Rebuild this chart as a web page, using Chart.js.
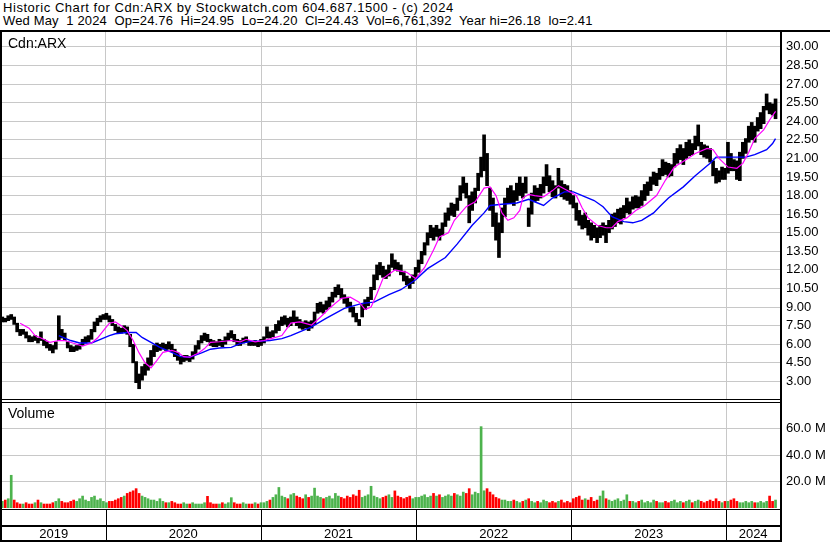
<!DOCTYPE html>
<html>
<head>
<meta charset="utf-8">
<script src="https://cdn.jsdelivr.net/npm/chart.js@4.4.1/dist/chart.umd.min.js"></script>
<style>
body { margin: 0; background: #fff; width: 830px; height: 543px; overflow: hidden; position: relative;
       font-family: Arial, "Liberation Sans", sans-serif; color: #000; }
.hdr { position: absolute; left: 3px; font-size: 13px; line-height: 13px; white-space: pre; }
.lbl { position: absolute; left: 8px; font-size: 14px; line-height: 16px; }
.ln { position: absolute; background: #000; }
canvas { position: absolute; left: 0; }
</style>
</head>
<body>
<div class="hdr" style="top:1px;letter-spacing:0.55px">Historic Chart for Cdn:ARX by Stockwatch.com 604.687.1500 - (c) 2024</div>
<div class="hdr" style="top:14px;letter-spacing:0.15px">Wed May  1 2024  Op=24.76  Hi=24.95  Lo=24.20  Cl=24.43  Vol=6,761,392  Year hi=26.18  lo=2.41</div>

<canvas id="price" width="830" height="368" style="top:32px"></canvas>
<canvas id="vol" width="830" height="140" style="top:402px"></canvas>

<div class="lbl" style="top:35px">Cdn:ARX</div>
<div class="lbl" style="top:405px">Volume</div>

<div class="ln" style="left:0;top:30px;width:830px;height:2px"></div>
<div class="ln" style="left:0;top:30px;width:2px;height:512px"></div>
<div class="ln" style="left:780px;top:30px;width:2px;height:512px"></div>
<div class="ln" style="left:0;top:399px;width:782px;height:1px"></div>
<div class="ln" style="left:0;top:402px;width:782px;height:1px"></div>
<div class="ln" style="left:0;top:509px;width:782px;height:1px"></div>
<div class="ln" style="left:0;top:525px;width:782px;height:2px"></div>
<div class="ln" style="left:0;top:540px;width:782px;height:2px"></div>

<script>
// weekly bars, first week ending 2019-05-03
const highs = [
  8.2, 8.1, 8.3, 8.4, 8.2, 7.7, 7.2, 7.2, 7.0, 6.7,
  6.6, 6.7, 6.5, 7.0, 6.4, 6.2, 6.0, 5.9, 6.2, 8.3,
  7.2, 6.9, 6.2, 5.9, 5.8, 5.9, 6.0, 6.4, 6.6, 6.7,
  7.2, 7.8, 8.1, 8.3, 8.4, 8.5, 8.3, 8.0, 7.6, 7.4,
  7.3, 7.5, 7.4, 6.8, 6.0, 4.6, 3.6, 4.2, 4.4, 4.9,
  5.5, 5.9, 6.1, 6.0, 6.1, 6.0, 6.2, 6.0, 5.6, 5.3,
  5.0, 5.1, 5.1, 5.0, 5.4, 5.9, 6.3, 6.7, 6.9, 6.8,
  6.4, 6.3, 6.2, 6.4, 6.3, 6.6, 6.9, 7.1, 6.8, 6.4,
  6.3, 6.5, 6.6, 6.3, 6.2, 6.3, 6.2, 6.4, 6.6, 7.4,
  7.0, 7.1, 7.6, 7.9, 8.2, 8.3, 8.1, 8.2, 8.7, 8.2,
  8.0, 7.8, 7.9, 7.8, 7.9, 8.6, 9.3, 9.4, 9.2, 9.5,
  9.8, 10.2, 10.6, 10.8, 10.5, 10.0, 9.8, 9.4, 9.0, 8.5,
  8.0, 9.2, 9.6, 9.8, 10.6, 11.6, 12.4, 12.6, 12.3, 12.0,
  12.4, 13.3, 12.8, 12.6, 12.4, 11.9, 11.5, 11.3, 11.6, 12.2,
  12.8, 13.5, 14.2, 15.0, 15.6, 15.4, 15.6, 15.3, 15.8, 16.6,
  17.0, 17.4, 17.3, 17.8, 18.8, 19.5, 19.0, 18.0, 18.3, 18.6,
  19.8, 21.1, 22.9, 21.4, 18.6, 17.8, 16.6, 15.8, 17.0, 17.8,
  18.6, 18.8, 18.4, 19.0, 19.5, 19.0, 19.5, 17.0, 18.2, 18.8,
  18.6, 18.9, 19.5, 20.5, 19.6, 19.2, 18.8, 20.2, 19.2, 18.9,
  18.8, 18.4, 18.0, 17.4, 16.8, 16.4, 16.6, 16.0, 15.8, 15.6,
  15.4, 15.6, 15.8, 15.6, 16.0, 16.5, 16.6, 16.9, 17.0, 17.2,
  17.8, 17.5, 17.9, 18.0, 17.9, 18.4, 18.9, 19.1, 19.5, 19.9,
  19.8, 20.2, 20.9, 20.7, 20.6, 20.5, 21.4, 21.8, 22.1, 21.8,
  22.3, 22.5, 22.2, 22.8, 23.7, 22.3, 22.1, 22.0, 21.8, 20.8,
  20.2, 20.0, 20.3, 20.2, 22.3, 21.4, 20.9, 20.8, 21.5, 22.3,
  22.6, 23.6, 23.9, 23.6, 24.3, 24.7, 25.2, 26.2, 25.5, 25.4, 25.8
];
const lows = [
  7.8, 7.8, 7.9, 8.0, 7.6, 7.0, 6.7, 6.8, 6.5, 6.2,
  6.2, 6.3, 6.1, 6.3, 5.9, 5.7, 5.5, 5.3, 5.6, 6.3,
  6.5, 6.3, 5.7, 5.4, 5.4, 5.5, 5.6, 5.9, 6.1, 6.2,
  6.4, 7.0, 7.5, 7.8, 8.0, 8.0, 7.8, 7.5, 7.1, 6.9,
  6.9, 7.0, 6.8, 5.8, 4.5, 2.9, 2.41, 3.1, 3.5, 3.9,
  4.3, 5.0, 5.4, 5.5, 5.6, 5.5, 5.6, 5.4, 5.0, 4.7,
  4.4, 4.6, 4.7, 4.6, 4.8, 5.2, 5.6, 6.1, 6.3, 6.2,
  5.9, 5.8, 5.8, 5.9, 5.8, 6.0, 6.3, 6.5, 6.2, 5.9,
  5.9, 6.1, 6.2, 5.9, 5.9, 5.9, 5.8, 5.9, 6.1, 6.5,
  6.5, 6.6, 6.9, 7.1, 7.5, 7.6, 7.4, 7.5, 7.8, 7.5,
  7.3, 7.2, 7.3, 7.1, 7.3, 7.6, 8.5, 8.6, 8.5, 8.8,
  9.0, 9.4, 9.8, 10.0, 9.7, 9.3, 9.0, 8.6, 8.2, 7.8,
  7.5, 8.2, 8.8, 9.1, 9.6, 10.4, 11.2, 11.6, 11.4, 11.3,
  11.5, 12.2, 12.0, 11.9, 11.6, 11.1, 10.8, 10.5, 10.9, 11.3,
  11.8, 12.5, 13.2, 14.0, 14.6, 14.4, 14.7, 14.4, 14.8, 15.5,
  16.0, 16.4, 16.3, 16.8, 17.6, 18.2, 17.8, 15.8, 16.8, 17.4,
  18.4, 19.5, 20.0, 18.8, 16.8, 15.5, 14.4, 13.0, 15.0, 16.3,
  17.4, 17.4, 17.2, 17.6, 18.0, 17.8, 18.2, 15.5, 16.5, 17.5,
  17.6, 17.8, 18.2, 18.8, 18.3, 17.9, 17.8, 18.6, 17.9, 17.7,
  17.6, 17.3, 17.0, 16.0, 15.6, 15.3, 15.4, 14.8, 14.4, 14.6,
  14.2, 14.6, 14.8, 14.2, 15.0, 15.3, 15.5, 15.8, 15.7, 16.2,
  16.6, 16.5, 16.9, 17.0, 17.0, 17.2, 17.6, 18.0, 18.4, 18.9,
  18.8, 19.3, 19.6, 19.7, 19.5, 19.6, 20.3, 20.6, 20.9, 20.5,
  21.0, 21.2, 21.3, 21.7, 22.0, 21.3, 21.1, 21.0, 20.7, 19.6,
  19.0, 19.1, 19.3, 19.3, 19.8, 20.0, 20.0, 19.3, 19.2, 21.0,
  21.4, 22.3, 22.5, 22.3, 23.2, 23.4, 23.8, 24.9, 24.6, 24.5, 24.2
];
// volume in millions
const vols = [
  5, 6, 7, 24.7, 6, 4, 3, 3, 4, 3,
  3, 4, 6, 4, 3, 3, 3, 4, 5, 7,
  5, 4, 4, 5, 6, 5, 7, 9, 6, 5,
  8, 9, 6, 7, 5,
  4, 5, 5, 6, 7, 8, 9, 11, 12, 13,
  14.6, 11, 9, 8, 7, 6, 6, 5, 7, 5,
  4, 4, 5, 4, 3, 3, 4, 3, 3, 4,
  3, 3, 3, 4, 8.8, 4, 3, 3, 3, 4,
  3, 4, 7.8, 4, 3, 3, 4, 3, 3, 3, 4, 3, 4,
  4, 5, 6, 8, 10, 15.5, 9, 8, 7, 10,
  11, 9, 8, 7, 10, 8, 9, 15, 9, 8,
  7, 8, 9, 7, 11, 9, 8, 7, 9, 8,
  10, 9, 13.4, 8, 9, 10, 16.4, 9, 8, 7,
  8, 9, 10, 8, 12.9, 9, 8, 7, 8, 9, 7, 8,
  8, 9, 10, 8, 9, 11, 9, 10, 8, 9,
  10, 9, 11, 10, 9, 12, 11, 14.6, 10, 12,
  11, 61.4, 13, 14.6, 12, 10, 8, 7, 6, 6,
  5, 5, 6, 5, 4, 5, 6, 7, 5, 4,
  5, 4, 6, 5, 4, 5, 4, 5, 6, 4, 5, 4,
  7, 8, 9, 6, 7, 6, 8, 5, 6, 9,
  12.9, 7, 6, 5, 6, 7, 5, 6, 10, 5,
  5, 4, 5, 6, 4, 5, 4, 6, 5, 4,
  4, 5, 4, 5, 6, 4, 5, 4, 5, 6,
  4, 5, 6, 5, 4, 5, 6, 5, 7, 5, 4, 5,
  5, 6, 7, 5, 4, 4, 5, 4, 5, 4, 4, 5, 4, 5, 9, 5, 6
];
// moving averages, sampled at week numbers
const ma50Weeks = [6, 9, 11, 13, 16, 19, 21, 25, 27, 30, 32, 34, 36, 38, 40, 42, 44, 46, 48, 50,
  52, 54, 57, 59, 61, 63, 66, 68, 70, 73, 77, 80, 82, 85, 88, 91, 94, 97, 100, 104,
  107, 110, 114, 117, 120, 122, 124, 126, 128, 132, 134, 136, 139, 142, 145, 147, 150, 152, 156, 159,
  162, 164, 166, 168, 170, 172, 174, 175, 177, 179, 182, 185, 187, 190, 193, 195, 197, 200, 203, 205,
  207, 210, 213, 216, 220, 223, 226, 230, 233, 237, 239, 241, 244, 247, 249, 251, 253, 256, 258, 260];
const ma50Vals = [7.7, 7.3, 6.7, 6.5, 6.15, 6.3, 6.3, 6.0, 5.85, 6.1, 6.5, 7.1, 7.7, 7.8, 7.5, 7.1, 6.3, 5.3, 4.5, 4.1,
  4.7, 5.35, 5.5, 5.35, 5.0, 4.95, 5.3, 5.65, 6.15, 6.2, 6.3, 6.2, 6.4, 6.2, 6.3, 6.5, 6.7, 7.7, 7.8, 7.55,
  8.2, 8.9, 9.7, 9.8, 9.4, 8.8, 9.0, 10.1, 11.3, 12.0, 11.9, 11.8, 11.3, 12.2, 13.6, 14.65, 15.0, 16.0, 17.1, 17.5,
  18.6, 18.7, 18.0, 16.6, 16.0, 16.2, 16.8, 17.8, 18.1, 18.0, 17.9, 18.4, 18.8, 18.4, 18.0, 17.0, 16.2, 15.6, 15.4, 15.4,
  15.9, 16.2, 16.8, 17.2, 18.0, 19.25, 20.3, 20.9, 21.4, 21.8, 21.7, 21.0, 20.3, 20.2, 20.6, 21.5, 22.6, 23.3, 24.1, 24.8];
const ma200Weeks = [19, 23, 26, 30, 33, 36, 38, 42, 45, 47, 50, 53, 57, 60, 63, 67, 70, 73, 77, 80,
  84, 87, 90, 94, 97, 104, 109, 115, 121, 125, 130, 134, 139, 143, 149, 153, 158, 162, 164, 168,
  173, 177, 179, 182, 185, 189, 192, 195, 199, 202, 205, 209, 212, 215, 219, 221, 224, 229, 233, 238,
  240, 242, 247, 250, 253, 257, 259, 260];
const ma200Vals = [6.7, 6.3, 6.1, 6.1, 6.4, 6.7, 6.85, 6.95, 6.95, 6.55, 6.15, 5.75, 5.35, 5.0, 4.95, 5.3, 5.6, 5.7, 5.75, 6.05,
  6.25, 6.25, 6.3, 6.45, 6.7, 7.4, 8.1, 8.9, 9.3, 9.4, 10.0, 10.4, 11.2, 12.1, 13.0, 14.1, 15.6, 16.6, 17.2, 17.3,
  17.4, 17.7, 17.5, 17.2, 17.8, 18.3, 18.3, 18.0, 17.6, 17.1, 16.3, 15.9, 15.8, 16.0, 16.6, 17.1, 17.8, 18.7, 19.6, 20.6,
  21.1, 21.1, 21.1, 21.1, 21.3, 21.7, 22.2, 22.6];

const priceTicks = [3, 4.5, 6, 7.5, 9, 10.5, 12, 13.5, 15, 16.5, 18, 19.5, 21, 22.5, 24, 25.5, 27, 28.5, 30];
const volTicks = [20, 40, 60];
const yearLabels = ['2019', '2020', '2021', '2022', '2023', '2024'];

const firstWeek = new Date(2019, 4, 3);
const yearStarts = [2020, 2021, 2022, 2023, 2024].map(y => (new Date(y, 0, 1) - firstWeek) / (7 * 864e5));

const GRID = '#c8c8c8';
const FONT = { family: 'Arial, "Liberation Sans", sans-serif', size: 13 };
const X_MIN = -0.1, X_MAX = 261.5;

function xScale() {
  return {
    type: 'linear', min: X_MIN, max: X_MAX, offset: false,
    afterBuildTicks: s => { s.ticks = yearStarts.map(v => ({ value: v })); },
    afterFit: s => { s.height = 0; s.paddingLeft = 0; s.paddingRight = 0; },
    ticks: { display: false },
    grid: { color: GRID, drawTicks: false, offset: false },
    border: { display: false }
  };
}

function yScale(min, max, ticks, fmt) {
  return {
    position: 'right', min: min, max: max,
    afterBuildTicks: s => { s.ticks = ticks.map(v => ({ value: v })); },
    // keep the plot area flush with the panel edges
    afterFit: s => { s.width = 50; s.paddingTop = 0; s.paddingBottom = 0; },
    ticks: { color: '#000', font: FONT, padding: 6, callback: fmt },
    grid: { color: GRID, drawTicks: false },
    border: { display: false }
  };
}

new Chart(document.getElementById('price'), {
  type: 'bar',
  data: {
    datasets: [
      {
        type: 'line', order: 0,
        data: ma50Weeks.map((w, i) => ({ x: w, y: ma50Vals[i] })),
        borderColor: '#ff00ff', borderWidth: 1.2, pointRadius: 0, tension: 0
      },
      {
        type: 'line', order: 1,
        data: ma200Weeks.map((w, i) => ({ x: w, y: ma200Vals[i] })),
        borderColor: '#0000ff', borderWidth: 1.4, pointRadius: 0, tension: 0
      },
      {
        type: 'bar', order: 2,
        data: highs.map((h, i) => ({ x: i, y: [lows[i], h] })),
        backgroundColor: '#000', barThickness: 3, grouped: false
      }
    ]
  },
  options: {
    responsive: false, animation: false,
    layout: { padding: { left: 2, top: 0, right: 0, bottom: 0 } },
    plugins: { legend: { display: false }, tooltip: { enabled: false } },
    scales: {
      x: xScale(),
      y: yScale(1.5, 31.2, priceTicks, v => v.toFixed(2))
    }
  }
});

// year separators and labels in the strip under the volume panel
const yearStrip = {
  id: 'yearStrip',
  afterDraw(chart) {
    const { ctx, chartArea, scales } = chart;
    const x = scales.x;
    const edges = [chartArea.left].concat(yearStarts.map(v => x.getPixelForValue(v)), [chartArea.right]);
    ctx.save();
    ctx.strokeStyle = '#000';
    ctx.lineWidth = 1;
    yearStarts.forEach(v => {
      const px = Math.round(x.getPixelForValue(v)) + 0.5;
      ctx.beginPath();
      ctx.moveTo(px, chartArea.bottom + 2);
      ctx.lineTo(px, chartArea.bottom + 34);
      ctx.stroke();
    });
    ctx.fillStyle = '#000';
    ctx.font = '13px Arial, "Liberation Sans", sans-serif';
    ctx.textAlign = 'center';
    ctx.textBaseline = 'middle';
    yearLabels.forEach((lab, i) => {
      ctx.fillText(lab, (edges[i] + edges[i + 1]) / 2, chartArea.bottom + 26.5);
    });
    ctx.restore();
  }
};

const mids = highs.map((h, i) => (h + lows[i]) / 2);
new Chart(document.getElementById('vol'), {
  type: 'bar',
  data: {
    datasets: [{
      data: vols.map((v, i) => ({ x: i, y: v })),
      backgroundColor: vols.map((v, i) => (i > 0 && mids[i] < mids[i - 1]) ? '#ff0000' : '#4db34d'),
      barThickness: 2, grouped: false
    }]
  },
  options: {
    responsive: false, animation: false,
    layout: { padding: { left: 2, top: 0, right: 0, bottom: 34 } },
    plugins: { legend: { display: false }, tooltip: { enabled: false } },
    scales: {
      x: xScale(),
      y: yScale(0, 80, volTicks, v => v.toFixed(1) + ' M')
    }
  },
  plugins: [yearStrip]
});
</script>
</body>
</html>
